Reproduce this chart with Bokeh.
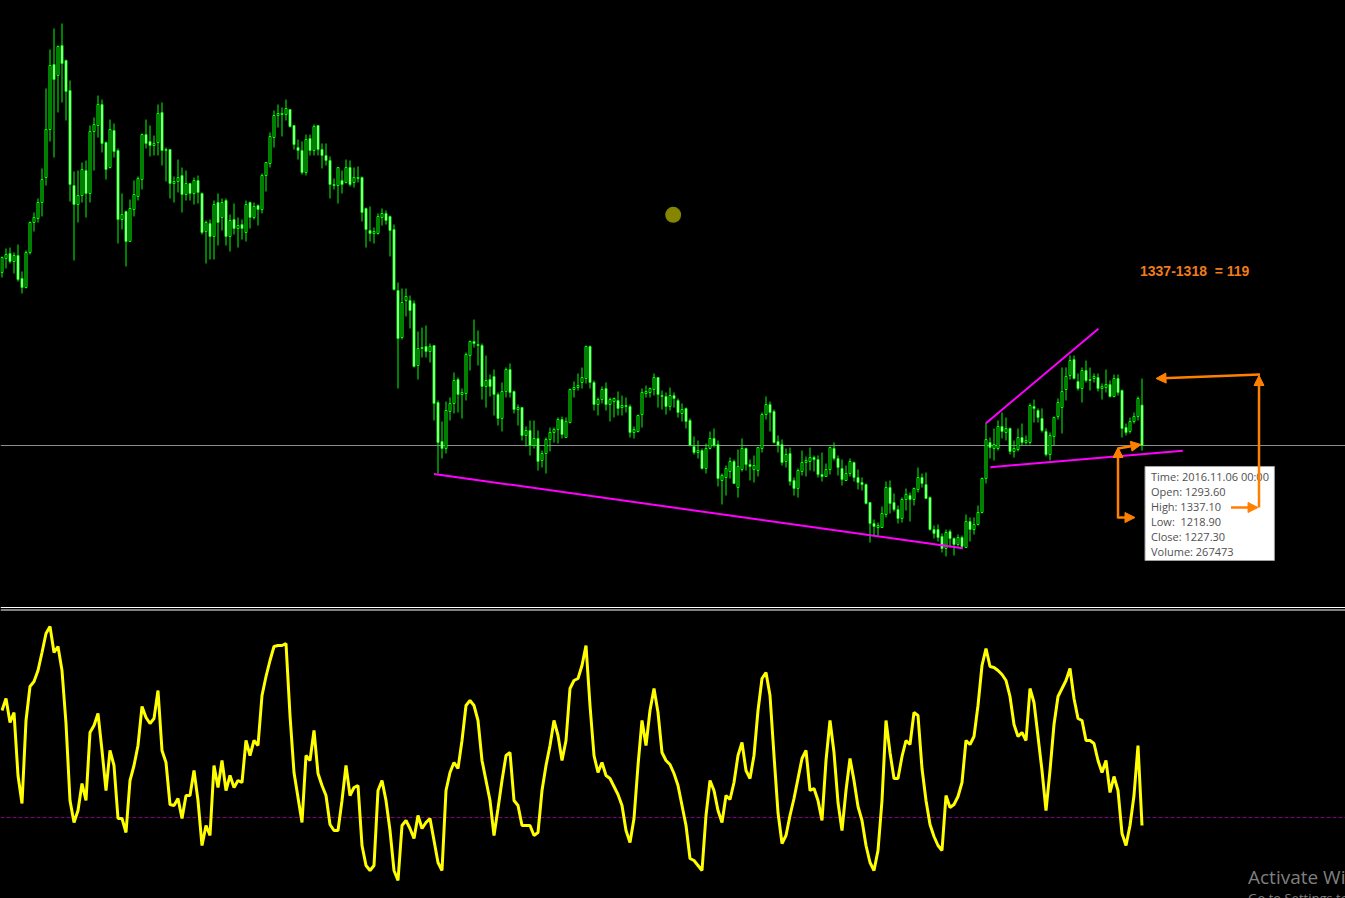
from bokeh.plotting import figure
from bokeh.layouts import column
from bokeh.models import ColumnDataSource, Span, Arrow, NormalHead, Label, Range1d
from bokeh.core.properties import value
from bokeh.embed import file_html
from bokeh.resources import INLINE

# ---------------- weekly candles (XAUUSD-like), oldest -> newest ----------------
opens = [
1511.0,1534.0,1542.2,1529.1,1538.9,1501.2,1486.4,1543.8,1593.0,1599.6,
1625.8,1666.8,1745.5,1852.1,1834.1,1883.3,1858.7,1809.5,1653.7,1622.5,
1637.3,1678.3,1640.6,1742.3,1752.1,1786.5,1724.2,1683.2,1743.9,1711.1,
1597.9,1611.1,1561.9,1614.3,1635.7,1663.5,1737.3,1725.9,1719.3,1724.2,
1773.4,1711.1,1712.7,1657.0,1660.3,1670.1,1638.9,1657.0,1640.6,1661.9,
1640.6,1578.3,1591.4,1570.1,1625.8,1601.2,1629.1,1570.1,1597.9,1583.2,
1589.7,1576.6,1625.8,1601.2,1620.9,1614.3,1670.1,1689.8,1732.4,1768.5,
1771.8,1770.1,1778.3,1752.1,1716.0,1711.1,1675.0,1730.8,1711.1,1752.1,
1712.7,1702.9,1694.7,1655.3,1653.7,1661.9,1658.6,1683.2,1658.6,1666.8,
1666.8,1616.0,1579.9,1575.0,1575.0,1601.2,1607.8,1602.9,1581.5,1481.5,
1404.4,1465.1,1465.1,1460.2,1358.5,1386.4,1389.7,1381.5,1391.3,1297.8,
1233.9,1222.4,1283.1,1296.2,1335.5,1310.9,1312.6,1374.9,1397.9,1392.9,
1391.3,1324.1,1335.5,1340.5,1310.9,1271.6,1315.9,1351.9,1315.9,1286.3,
1289.6,1243.7,1251.9,1227.3,1238.8,1202.7,1214.2,1237.1,1248.6,1253.5,
1269.9,1240.4,1265.0,1319.1,1322.4,1330.6,1337.2,1389.7,1330.6,1294.5,
1302.7,1320.8,1294.5,1299.5,1301.1,1289.6,1292.9,1291.3,1248.6,1250.3,
1278.1,1312.6,1314.2,1319.1,1338.8,1309.3,1307.7,1291.3,1309.3,1301.1,
1279.8,1288.0,1268.3,1225.7,1215.8,1219.1,1189.6,1222.4,1238.8,1228.9,
1169.9,1174.8,1184.7,1201.1,1158.4,1187.9,1222.4,1196.1,1187.9,1186.3,
1222.4,1278.1,1294.5,1283.1,1233.9,1228.9,1201.1,1214.2,1169.9,1156.8,
1184.7,1199.4,1201.1,1207.6,1204.3,1179.7,1176.5,1187.9,1222.4,1206.0,
1189.6,1169.9,1181.4,1199.4,1174.8,1166.6,1163.3,1133.8,1099.4,1092.8,
1092.8,1114.1,1158.4,1133.8,1122.3,1107.6,1138.7,1145.3,1138.7,1155.1,
1174.8,1163.3,1142.0,1089.5,1089.5,1078.1,1058.4,1086.3,1074.8,1064.9,
1076.4,1060.0,1102.7,1089.5,1097.7,1117.4,1173.2,1232.2,1222.4,1222.4,
1258.5,1248.6,1255.2,1217.5,1220.7,1240.4,1232.2,1232.2,1291.3,1284.7,
1271.6,1250.3,1212.5,1242.1,1274.9,1289.6,1319.1,1342.1,1368.3,1332.3,
1320.8,1350.3,1333.9,1337.2,1338.8,1320.8,1322.4,1327.3,1307.7,1337.2,
1317.5,1256.8,1250.3,1266.7,1274.9,1293.6]

highs = [
1537.3,1550.4,1552.0,1543.8,1556.9,1512.7,1547.1,1594.7,1609.4,1632.4,
1681.6,1812.8,1876.7,1911.2,1883.3,1919.4,1860.3,1825.9,1676.7,1678.3,
1691.4,1694.7,1752.1,1765.2,1801.3,1794.7,1725.9,1761.9,1755.4,1714.4,
1640.6,1612.7,1630.7,1661.9,1668.5,1739.0,1761.9,1752.1,1735.7,1786.5,
1789.8,1716.0,1712.7,1668.5,1696.3,1683.2,1678.3,1657.0,1666.8,1670.1,
1642.2,1596.3,1597.9,1629.1,1640.6,1632.4,1632.4,1606.1,1624.2,1601.2,
1597.9,1629.1,1627.5,1625.8,1622.5,1673.4,1691.4,1740.6,1776.7,1786.5,
1781.6,1794.7,1778.3,1752.1,1729.1,1725.9,1737.3,1737.3,1753.7,1752.1,
1722.6,1722.6,1701.3,1665.2,1683.2,1678.3,1696.3,1694.7,1683.2,1684.9,
1668.5,1617.6,1619.3,1584.8,1607.8,1616.0,1612.7,1604.5,1589.7,1494.6,
1484.8,1484.8,1473.3,1465.1,1414.3,1420.8,1424.1,1394.6,1391.3,1301.1,
1266.7,1299.5,1306.0,1347.0,1338.8,1320.8,1379.8,1399.5,1433.9,1415.9,
1394.6,1374.9,1343.7,1351.9,1314.2,1330.6,1355.2,1361.8,1317.5,1294.5,
1289.6,1258.5,1268.3,1268.3,1251.9,1219.1,1240.4,1256.8,1256.8,1273.2,
1274.9,1273.2,1320.8,1332.3,1345.4,1355.2,1391.3,1391.3,1333.9,1306.0,
1324.1,1330.6,1306.0,1306.0,1315.9,1309.3,1306.0,1294.5,1258.5,1278.1,
1320.8,1325.7,1322.4,1345.4,1338.8,1317.5,1314.2,1322.4,1314.2,1304.4,
1296.2,1289.6,1271.6,1242.1,1235.5,1222.4,1230.6,1250.3,1255.2,1235.5,
1181.4,1194.5,1207.6,1204.3,1220.7,1238.8,1224.0,1204.3,1210.9,1224.0,
1281.4,1307.7,1299.5,1286.3,1243.7,1237.1,1222.4,1224.0,1174.8,1189.6,
1219.1,1209.3,1224.0,1210.9,1210.9,1215.8,1197.8,1225.7,1232.2,1210.9,
1204.3,1194.5,1206.0,1201.1,1187.9,1174.8,1165.0,1133.8,1105.9,1101.0,
1127.3,1168.3,1169.9,1148.6,1128.9,1142.0,1156.8,1150.2,1158.4,1191.2,
1181.4,1183.0,1143.7,1096.1,1097.7,1083.0,1089.5,1089.5,1076.4,1081.3,
1079.7,1114.1,1109.2,1109.2,1128.9,1174.8,1265.0,1240.4,1255.2,1268.3,
1281.4,1273.2,1256.8,1235.5,1255.2,1263.4,1243.7,1296.2,1302.7,1288.0,
1288.0,1255.2,1248.6,1274.9,1304.4,1355.2,1355.2,1374.9,1374.9,1345.4,
1355.2,1366.7,1355.2,1345.4,1345.4,1329.0,1351.9,1333.9,1343.7,1343.7,
1319.1,1263.4,1273.2,1281.4,1307.7,1337.1]

lows = [
1502.8,1517.6,1525.8,1509.4,1496.3,1476.6,1484.8,1540.5,1578.3,1593.0,
1602.9,1653.7,1725.9,1699.6,1773.4,1789.8,1760.3,1627.5,1530.7,1593.0,
1625.8,1601.2,1625.8,1678.3,1732.4,1707.8,1663.5,1681.6,1699.6,1558.6,
1581.5,1520.9,1561.9,1602.9,1629.1,1647.1,1714.4,1701.3,1702.9,1702.9,
1686.5,1660.3,1632.4,1625.8,1642.2,1609.4,1629.1,1629.1,1622.5,1624.2,
1573.3,1525.8,1532.3,1532.3,1555.3,1579.9,1555.3,1545.5,1573.3,1552.0,
1565.1,1561.9,1583.2,1597.9,1588.1,1607.8,1643.9,1683.2,1716.0,1748.8,
1734.1,1760.3,1748.8,1712.7,1696.3,1671.7,1670.1,1702.9,1702.9,1702.9,
1681.6,1686.5,1632.4,1647.1,1624.2,1640.6,1657.0,1652.1,1650.4,1658.6,
1594.7,1552.0,1561.9,1558.6,1573.3,1588.1,1589.7,1537.3,1481.5,1320.8,
1401.1,1438.9,1419.2,1355.2,1335.5,1371.6,1371.6,1363.4,1268.3,1181.4,
1206.0,1214.2,1268.3,1279.8,1281.4,1271.6,1301.1,1350.3,1388.0,1358.5,
1302.7,1289.6,1307.7,1276.5,1260.1,1250.3,1306.0,1306.0,1279.8,1260.1,
1235.5,1225.7,1210.9,1222.4,1186.3,1191.2,1181.4,1217.5,1232.2,1230.6,
1238.8,1240.4,1263.4,1306.0,1317.5,1320.8,1329.0,1320.8,1284.7,1276.5,
1296.2,1284.7,1266.7,1273.2,1276.5,1276.5,1281.4,1240.4,1238.8,1248.6,
1256.8,1306.0,1306.0,1309.3,1289.6,1286.3,1278.1,1284.7,1289.6,1273.2,
1266.7,1255.2,1225.7,1212.5,1206.0,1187.9,1181.4,1220.7,1224.0,1160.1,
1130.5,1145.3,1173.2,1165.0,1142.0,1184.7,1186.3,1169.9,1166.6,1176.5,
1215.8,1269.9,1250.3,1230.6,1215.8,1194.5,1191.2,1161.7,1145.3,1142.0,
1178.1,1176.5,1186.3,1184.7,1174.8,1168.3,1176.5,1179.7,1202.7,1178.1,
1161.7,1169.9,1176.5,1168.3,1155.1,1153.5,1130.5,1068.2,1079.7,1079.7,
1092.8,1109.2,1115.8,1119.1,1099.4,1101.0,1120.7,1102.7,1128.9,1150.2,
1158.4,1140.4,1087.9,1074.8,1069.9,1051.8,1045.3,1060.0,1046.9,1061.7,
1060.0,1060.0,1069.9,1081.3,1096.1,1115.8,1165.0,1206.0,1202.7,1219.1,
1238.8,1235.5,1212.5,1207.6,1217.5,1227.3,1228.9,1228.9,1265.0,1265.0,
1248.6,1209.3,1202.7,1227.3,1269.9,1247.0,1301.1,1335.5,1335.5,1317.5,
1297.8,1330.6,1317.5,1330.6,1315.9,1302.7,1314.2,1306.0,1306.0,1309.3,
1240.4,1243.7,1247.0,1263.4,1268.3,1218.9]

closes = [
1535.6,1540.5,1529.1,1538.9,1499.5,1486.4,1543.8,1593.0,1601.2,1625.8,
1663.5,1745.5,1850.5,1827.5,1881.7,1853.8,1807.9,1655.3,1622.5,1637.3,
1679.9,1640.6,1742.3,1753.7,1786.5,1722.6,1679.9,1745.5,1709.5,1597.9,
1606.1,1561.9,1616.0,1638.9,1665.2,1737.3,1722.6,1719.3,1722.6,1771.8,
1711.1,1712.7,1657.0,1660.3,1666.8,1638.9,1657.0,1640.6,1661.9,1642.2,
1576.6,1593.0,1570.1,1622.5,1593.0,1625.8,1570.1,1596.3,1583.2,1588.1,
1583.2,1622.5,1601.2,1619.3,1614.3,1670.1,1691.4,1734.1,1768.5,1771.8,
1770.1,1780.0,1750.5,1720.9,1711.1,1675.0,1729.1,1711.1,1750.5,1712.7,
1702.9,1694.7,1655.3,1653.7,1683.2,1655.3,1683.2,1655.3,1666.8,1665.2,
1609.4,1581.5,1575.0,1578.3,1602.9,1607.8,1596.3,1579.9,1483.1,1402.8,
1461.8,1471.7,1448.7,1356.9,1386.4,1388.0,1381.5,1389.7,1296.2,1232.2,
1222.4,1284.7,1296.2,1333.9,1310.9,1314.2,1376.5,1397.9,1394.6,1391.3,
1324.1,1333.9,1324.1,1310.9,1271.6,1315.9,1351.9,1314.2,1286.3,1289.6,
1243.7,1251.9,1227.3,1238.8,1201.1,1214.2,1237.1,1248.6,1253.5,1269.9,
1245.3,1266.7,1319.1,1322.4,1325.7,1338.8,1389.7,1330.6,1294.5,1302.7,
1319.1,1294.5,1302.7,1304.4,1288.0,1292.9,1291.3,1248.6,1253.5,1276.5,
1314.2,1315.9,1320.8,1338.8,1310.9,1307.7,1291.3,1309.3,1304.4,1281.4,
1286.3,1266.7,1227.3,1215.8,1219.1,1189.6,1222.4,1238.8,1227.3,1173.2,
1178.1,1189.6,1201.1,1165.0,1192.9,1222.4,1196.1,1192.9,1194.5,1224.0,
1278.1,1294.5,1281.4,1232.2,1227.3,1199.4,1212.5,1168.3,1156.8,1186.3,
1199.4,1202.7,1207.6,1204.3,1179.7,1176.5,1187.9,1224.0,1206.0,1191.2,
1171.5,1181.4,1201.1,1174.8,1166.6,1163.3,1132.2,1099.4,1094.5,1096.1,
1115.8,1158.4,1132.2,1122.3,1107.6,1138.7,1146.9,1138.7,1156.8,1174.8,
1165.0,1140.4,1089.5,1083.0,1076.4,1058.4,1084.6,1074.8,1064.9,1076.4,
1061.7,1102.7,1089.5,1097.7,1117.4,1173.2,1237.1,1224.0,1228.9,1258.5,
1250.3,1255.2,1217.5,1222.4,1240.4,1232.2,1235.5,1292.9,1288.0,1273.2,
1251.9,1212.5,1243.7,1273.2,1297.8,1315.9,1340.5,1366.7,1337.2,1320.8,
1350.3,1333.9,1335.5,1340.5,1320.8,1324.1,1327.3,1307.7,1337.2,1314.2,
1255.2,1248.6,1266.7,1274.9,1304.4,1227.3]

# ---------------- oscillator (sub window), one value per candle ----------------
osc = [
53.5,59.5,47.5,52.5,21,7,48.5,65.5,68,73.5,
82.5,92,95.5,82.5,85.5,73.5,47,8.5,-2.5,3.5,
17,8.5,42.5,46,52,33.5,13.5,33.5,26,-0.5,
-0.5,-7.5,18.5,26,36,55.5,50,47,49.5,63.5,
33.5,27.5,6.5,6,9.5,-0.5,11,11,23.5,8.5,
-14,-4,-9,26,15,28.5,13.5,21,15,18.5,
17.5,38.5,31,38.5,36,61,70.5,78.5,85.5,86,
86,87,51,22.5,10,-2.5,31,28.5,43.5,22,
16,11,-3.5,-6.5,-6.5,8.5,26,11,15,16,
-14,-24,-26.5,-24,13.5,18.5,8.5,-6.5,-26.5,-31.5,
-4,-1.5,-5.5,-10.5,1,-5.5,-2.5,-0.5,-11.5,-22.5,
-26.5,13.5,22.5,27.5,24.5,38.5,56,58.5,56,48.5,
28.5,18.5,8.5,-9,4.5,18.5,31,32.5,8.5,6,
-4,-4,-4,-9,-7.5,13.5,26,36,48.5,41,
28.5,38.5,64.5,68.5,69.5,76,86,56,31,22.5,
27.5,21,19.5,15.5,11.5,6,-6.5,-12.5,-0.5,26,
48.5,36,53.5,64.5,52.5,32.5,28.5,26.5,22,16,
6,-4,-20.5,-21.5,-24,-26.5,1,18.5,13.5,3.5,
-2.5,11,9,17.5,31,37.5,23.5,19.5,31,53.5,
69.5,72.5,61,31,2.5,-13,-9,1,9.5,19.5,
29.5,33.5,13.5,14.5,8.5,-1.5,28.5,48.5,32.5,7.5,
-6.5,13.5,29.5,18.5,5.5,-1.5,-14,-22.5,-26.5,-16.5,
8.5,48.5,32.5,19.5,19.5,30.5,38.5,36.5,52.5,51,
24.5,8.5,-3.5,-9.5,-14,-16.5,11,5,6.5,10.5,
17.5,38.5,36.5,40.5,56,76,84.5,75.5,75,73.5,
71.5,68.5,60.5,46.5,40.5,42.5,38.5,64.5,57.5,40.5,
23.5,3.5,23.5,46.5,60.5,64.5,68.5,74.5,59.5,49.5,
48.5,38.5,38.5,37,28.5,22.5,28.5,12.5,20.5,13.5,
-8,-14,-4,11,36,-4]
osc_level = 0

# hand-drawn objects (bar index, price)
trend_bar0 = [108.0, 246.0, 247.1]
trend_px0 = [1180.6, 1263.9, 1191.7]
trend_bar1 = [240.25, 274.1, 295.2]
trend_px1 = [1058.9, 1418.7, 1218.6]

last_time = "2016.11.06 00:00"
last_volume = 267473

# ------------------------------------------------------------------------------
n = len(closes)
idx = list(range(n))
src = ColumnDataSource(dict(
    x=idx, o=opens, h=highs, l=lows, c=closes,
    top=[max(o, c) for o, c in zip(opens, closes)],
    bottom=[min(o, c) for o, c in zip(opens, closes)],
    fill=["#000000" if c >= o else "#ffffff" for o, c in zip(opens, closes)],
))

W = 1345
xr = Range1d(-0.375, -0.375 + W / 4.0)
LIME = "#00ff00"
ORANGE = "#ff8000"
NB = "\u00a0"

p1 = figure(width=W, height=608, x_range=xr, y_range=Range1d(959.98, 1957.1),
            output_backend="svg", toolbar_location=None,
            x_axis_location=None, y_axis_location=None,
            background_fill_color="#000000", border_fill_color="#000000",
            outline_line_color=None, min_border=0)
p1.xgrid.visible = False
p1.ygrid.visible = False

p1.add_layout(Span(location=closes[-1], dimension="width", line_color="#8c8c8c",
                   line_width=1, level="underlay"))
p1.add_layout(Span(location=961.6, dimension="width", line_color="#ffffff", line_width=1))

p1.segment(x0="x", y0="h", x1="x", y1="l", source=src, line_color=LIME, line_width=1)
p1.vbar(x="x", width=0.5, top="top", bottom="bottom", source=src,
        fill_color="fill", line_color=LIME, line_width=1)

p1.segment(x0=trend_bar0, y0=trend_px0, x1=trend_bar1, y1=trend_px1,
           line_color="#ff00ff", line_width=2)

p1.scatter(x=[167.8], y=[1605.6], size=16, fill_color="#858500", line_color=None)

# tooltip box
p1.quad(left=[285.75], right=[318.1], top=[1192.9], bottom=[1038.7],
        fill_color="#ffffff", line_color="#a0a0a0", line_width=1)
tip = [f"Time: {last_time}", f"Open: {opens[-1]:.2f}", f"High: {highs[-1]:.2f}",
       f"Low:{NB} {lows[-1]:.2f}", f"Close: {closes[-1]:.2f}", f"Volume: {last_volume}"]
p1.text(x=[287.25] * 6, y=[1176.5, 1151.9, 1127.3, 1102.7, 1078.1, 1053.5], text=tip,
        text_font=value("Open Sans"), text_font_size=value("11px"), text_color="#505050",
        text_baseline="middle", text_align="left")

p1.add_layout(Label(x=284.5, y=1512.7, text=f"{int(highs[-1])}-1318 {NB}= 119",
                    text_font="Liberation Sans", text_font_style="bold",
                    text_font_size="14px", text_color="#f07c18", text_baseline="middle"))

def arrow(x0, y0, x1, y1):
    p1.add_layout(Arrow(end=NormalHead(size=10, fill_color=ORANGE, line_color=ORANGE),
                        x_start=x0, y_start=y0, x_end=x1, y_end=y1,
                        line_color=ORANGE, line_width=2.5))

arrow(314.5, 1343.7, 288.5, 1337.2)
arrow(314.25, 1125.6, 314.25, 1342.1)
arrow(307.25, 1125.6, 314.0, 1125.6)
arrow(279.0, 1107.6, 279.0, 1224.0)
arrow(279.0, 1109.2, 283.25, 1109.2)
arrow(279.0, 1222.4, 284.75, 1228.9)

# ---------------- oscillator window ----------------
p2 = figure(width=W, height=290, x_range=xr, y_range=Range1d(-40.5, 104.5),
            output_backend="svg", toolbar_location=None,
            x_axis_location=None, y_axis_location=None,
            background_fill_color="#000000", border_fill_color="#000000",
            outline_line_color=None, min_border=0)
p2.xgrid.visible = False
p2.ygrid.visible = False
p2.add_layout(Span(location=103.75, dimension="width", line_color="#ffffff", line_width=1))
p2.add_layout(Span(location=osc_level, dimension="width", line_color="#800080",
                   line_dash="4 2", line_width=1, level="underlay"))
p2.line(x=idx, y=osc, line_color="#ffff00", line_width=3)
p2.add_layout(Label(x=311.5, y=-29.5, text="Activate Windows", text_font="Open Sans",
                    text_font_size="19px", text_color="#7f7f7f", text_baseline="alphabetic"))
p2.add_layout(Label(x=311.5, y=-40.0, text="Go to Settings to activate Windows.",
                    text_font="Open Sans", text_font_size="13px", text_color="#7f7f7f",
                    text_baseline="alphabetic"))

layout = column(p1, p2)
html = file_html(layout, INLINE)
html = html.replace("<head>", "<head><style>html, body { background: #000000; }</style>", 1)
open("out.html", "w").write(html)
